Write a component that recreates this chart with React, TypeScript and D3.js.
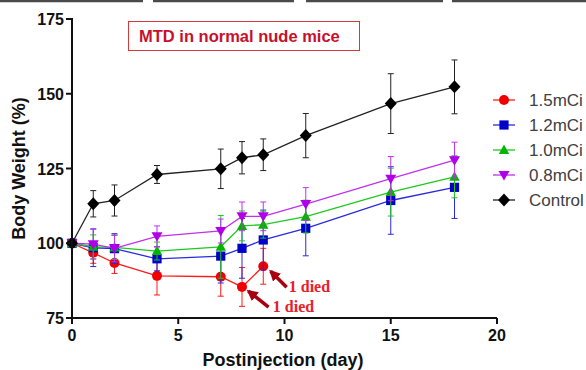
import { useMemo } from 'react'
import * as d3 from 'd3'

// days measured, and mean / error for each dose group
const DAYS = [0, 1, 2, 4, 7, 8, 9, 11, 15, 18]
const RED_DAYS = [0, 1, 2, 4, 7, 8, 9]

const DOSE_15 = [100, 96.8, 93.4, 89.1, 88.8, 85.4, 92.3]
const DOSE_15_ERR = [0, 3.5, 3.5, 6.4, 6.5, 6.5, 6]
const DOSE_12 = [100, 98.5, 98.2, 94.8, 95.7, 98.3, 101.1, 105, 114.3, 118.7]
const DOSE_12_ERR = [0, 6.3, 5, 4, 9, 10, 10, 9.2, 11.3, 10.4]
const DOSE_10 = [100, 98.8, 98.6, 97.4, 98.8, 105.8, 106.2, 108.9, 117.1, 122.2]
const DOSE_10_ERR = [0, 4, 4, 3, 10.5, 5, 4.5, 5.5, 8, 7]
const DOSE_08 = [100, 99.7, 98.3, 102.3, 104.1, 109, 109, 113.1, 121.6, 127.8]
const DOSE_08_ERR = [0, 5, 4.5, 3.5, 4, 4.8, 4.8, 5.5, 7.4, 6]
const CONTROL = [100, 113.2, 114.3, 123, 124.9, 128.6, 129.6, 136, 146.7, 152.3]
const CONTROL_ERR = [0, 4.4, 5.2, 3, 6.6, 5.4, 5.3, 7.4, 10, 9]

const X_TICKS = [0, 5, 10, 15, 20]
const Y_TICKS = [75, 100, 125, 150, 175]

// "1 died" notes: arrow tail -> head and label anchor, in data units
const NOTES = [
  { tail: [9.25, 78.6], head: [8.3, 84], label: [9.45, 76.9] },
  { tail: [10.1, 85.3], head: [9.35, 90.6], label: [10.2, 83.7] },
]

type Shape = 'circle' | 'square' | 'triangle' | 'triangleDown' | 'diamond'

const SERIES = [
  { name: '1.5mCi', days: RED_DAYS, values: DOSE_15, err: DOSE_15_ERR, color: '#ff1a1a', fill: '#f00000', shape: 'circle' as Shape },
  { name: '1.2mCi', days: DAYS, values: DOSE_12, err: DOSE_12_ERR, color: '#2a2ae0', fill: '#0000c8', shape: 'square' as Shape },
  { name: '1.0mCi', days: DAYS, values: DOSE_10, err: DOSE_10_ERR, color: '#1fc81f', fill: '#00b400', shape: 'triangle' as Shape },
  { name: '0.8mCi', days: DAYS, values: DOSE_08, err: DOSE_08_ERR, color: '#c030f0', fill: '#b000e8', shape: 'triangleDown' as Shape },
  { name: 'Control', days: DAYS, values: CONTROL, err: CONTROL_ERR, color: '#222', fill: '#000', shape: 'diamond' as Shape },
]

const FONT = "'Liberation Sans', Arial, sans-serif"

function Marker({ shape, x, y, fill }: { shape: Shape; x: number; y: number; fill: string }) {
  switch (shape) {
    case 'circle':
      return <circle cx={x} cy={y} r={5} fill={fill} />
    case 'square':
      return <rect x={x - 4.6} y={y - 4.6} width={9.2} height={9.2} fill={fill} />
    case 'triangle':
      return <path d={`M${x},${y - 5.5}L${x + 5.2},${y + 4}L${x - 5.2},${y + 4}Z`} fill={fill} />
    case 'triangleDown':
      return <path d={`M${x},${y + 5.5}L${x + 5.5},${y - 4}L${x - 5.5},${y - 4}Z`} fill={fill} />
    default:
      return <path d={`M${x},${y - 6.5}L${x + 6},${y}L${x},${y + 6.5}L${x - 6},${y}Z`} fill={fill} />
  }
}

export default function App() {
  const x = useMemo(() => d3.scaleLinear().domain([0, 20]).range([72, 497]), [])
  const y = useMemo(() => d3.scaleLinear().domain([75, 175]).range([318, 19]), [])
  const line = d3.line<[number, number]>().x((d) => x(d[0])).y((d) => y(d[1]))

  // legend rows
  const legendY = d3.scalePoint<string>().domain(SERIES.map((s) => s.name)).range([100, 200])

  return (
    <div style={{ position: 'absolute', left: 0, top: 0 }}>
      <svg width={586} height={370} style={{ display: 'block', background: '#fff' }}>
        {/* cropped edges of neighbouring panels */}
        {[[0, 143], [153, 294], [306, 443], [452, 586]].map(([a, b], i) => (
          <line key={i} x1={a} x2={b} y1={1} y2={1} stroke="#4a4a4a" strokeWidth={2.5} />
        ))}

        {/* title box */}
        <rect x={128.5} y={21.5} width={231} height={29} fill="none" stroke="#d23a3a" strokeWidth={1} />
        <text x={139} y={42} fontFamily={FONT} fontWeight="bold" fontSize={16.5} fill="#c8102a">
          MTD in normal nude mice
        </text>

        {/* series */}
        {SERIES.map((s) => {
          const pts = s.days.map((d, i) => [d, s.values[i]] as [number, number])
          return (
            <g key={s.name}>
              {pts.map(([d, v], i) =>
                s.err[i] > 0 ? (
                  <g key={i} stroke={s.color} strokeWidth={1}>
                    <line x1={x(d)} x2={x(d)} y1={y(v + s.err[i])} y2={y(v - s.err[i])} />
                    <line x1={x(d) - 3} x2={x(d) + 3} y1={y(v + s.err[i])} y2={y(v + s.err[i])} />
                    <line x1={x(d) - 3} x2={x(d) + 3} y1={y(v - s.err[i])} y2={y(v - s.err[i])} />
                  </g>
                ) : null
              )}
              <path d={line(pts) ?? ''} fill="none" stroke={s.color} strokeWidth={1.3} />
              {pts.map(([d, v], i) => (
                <Marker key={i} shape={s.shape} x={x(d)} y={y(v)} fill={s.fill} />
              ))}
            </g>
          )
        })}

        {/* axes */}
        <g stroke="#111" strokeWidth={2} fill="none">
          <line x1={x(0)} x2={x(0)} y1={y(175) - 1} y2={y(75) + 1} />
          <line x1={x(0) - 1} x2={x(20)} y1={y(75)} y2={y(75)} />
          {Y_TICKS.map((t) => (
            <line key={t} x1={x(0) - 6} x2={x(0)} y1={y(t)} y2={y(t)} />
          ))}
          {X_TICKS.map((t) => (
            <line key={t} x1={x(t)} x2={x(t)} y1={y(75)} y2={y(75) + 6} />
          ))}
        </g>
        <g fontFamily={FONT} fontWeight="bold" fontSize={16} fill="#111">
          {Y_TICKS.map((t) => (
            <text key={t} x={x(0) - 8} y={y(t) + 6} textAnchor="end">
              {t}
            </text>
          ))}
          {X_TICKS.map((t) => (
            <text key={t} x={x(t)} y={341} textAnchor="middle">
              {t}
            </text>
          ))}
        </g>
        <text x={283} y={366} textAnchor="middle" fontFamily={FONT} fontWeight="bold" fontSize={18} fill="#111">
          Postinjection (day)
        </text>
        <text
          transform={`translate(25,${(y(75) + y(175)) / 2}) rotate(-90)`}
          textAnchor="middle"
          fontFamily={FONT}
          fontWeight="bold"
          fontSize={18}
          fill="#111"
        >
          Body Weight (%)
        </text>

        {/* death notes */}
        <defs>
          <marker id="ah" viewBox="0 0 10 10" refX={8} refY={5} markerWidth={3.2} markerHeight={3.2} orient="auto">
            <path d="M0,0L10,5L0,10Z" fill="#a80010" />
          </marker>
        </defs>
        {NOTES.map((n, i) => (
          <g key={i}>
            <line
              x1={x(n.tail[0])}
              y1={y(n.tail[1])}
              x2={x(n.head[0])}
              y2={y(n.head[1])}
              stroke="#a80010"
              strokeWidth={3.5}
              markerEnd="url(#ah)"
            />
            <text
              x={x(n.label[0])}
              y={y(n.label[1])}
              fontFamily="'Liberation Serif', 'Times New Roman', serif"
              fontWeight="bold"
              fontSize={16}
              fill="#e8202a"
            >
              1 died
            </text>
          </g>
        ))}

        {/* legend */}
        {SERIES.map((s) => {
          const ly = legendY(s.name) ?? 0
          return (
            <g key={s.name}>
              <line x1={493} x2={515} y1={ly} y2={ly} stroke={s.color} strokeWidth={1.3} />
              <Marker shape={s.shape} x={504} y={ly} fill={s.fill} />
              <text x={529} y={ly + 6} fontFamily={FONT} fontSize={17} fill="#404040">
                {s.name}
              </text>
            </g>
          )
        })}
      </svg>
    </div>
  )
}
